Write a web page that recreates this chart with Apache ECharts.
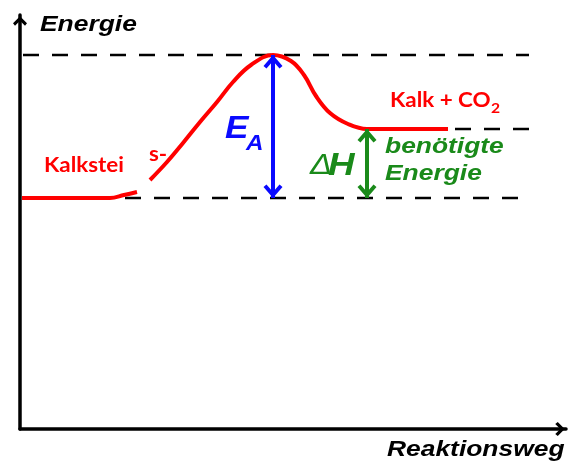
<!DOCTYPE html>
<html>
<head>
<meta charset="utf-8">
<script src="https://cdn.jsdelivr.net/npm/echarts@6/dist/echarts.min.js"></script>
<style>
  html, body { margin: 0; padding: 0; background: #fff; }
  #chart { width: 568px; height: 464px; }
</style>
</head>
<body>
<div id="chart"></div>
<script>
// energy levels (arbitrary units)
var reactantLevel = 231
var peakLevel = 374
var productLevel = 300
var peakX = 253
var productX = 347

// red reaction curve, the piece before the gap and the piece after it
var curveLowX = [2, 90, 104, 117]
var curveLowY = [231, 231, 234, 237]
var curveHighX = [130, 147, 163, 180, 197, 213, 231, 253, 271, 284, 296, 310, 328, 347, 428]
var curveHighY = [249, 267, 286, 307, 327, 347, 364, 374, 368, 354, 333, 316, 305, 300, 300]

// dashed helper lines: [xStart, xEnd] for each level
var topDashX = [3, 509]
var midDashX = [435, 509]
var lowDashX = [105, 503]

var RED = '#ff0000'
var BLUE = '#0a0aff'
var GREEN = '#1a8a1a'

function pairs(xs, ys) {
    return xs.map(function (x, i) { return [x, ys[i]] })
}

// chevron arrow heads, tip placed at the centre of the symbol box
var axisHead = 'path://M7,0L7.01,0L7,0.01Z M7,12L14,19L12,21.5L7,16.5L2,21.5L0,19Z'
var bigHead = 'path://M10,2.5L10.01,2.5L10,2.51Z M10,16L19.5,27L16.5,29.5L10,22L3.5,29.5L0.5,27Z'

function dashLine(xs, level) {
    return {
        type: 'line',
        data: [[xs[0], level], [xs[1], level]],
        symbol: 'none',
        silent: true,
        lineStyle: { color: '#000', width: 2.5, type: [16, 13] },
        z: 1
    }
}

function curve(xs, ys) {
    return {
        type: 'line',
        data: pairs(xs, ys),
        smooth: 0.4,
        symbol: 'none',
        silent: true,
        lineStyle: { color: RED, width: 4 },
        z: 2
    }
}

function doubleArrow(x, y1, y2, color) {
    return {
        type: 'line',
        data: [],
        silent: true,
        markLine: {
            silent: true,
            animation: false,
            symbol: [bigHead, bigHead],
            symbolSize: [19, 27],
            label: { show: false },
            lineStyle: { color: color, width: 4, type: 'solid' },
            emphasis: { disabled: true },
            data: [[{ coord: [x, y1] }, { coord: [x, y2] }]]
        },
        z: 3
    }
}

function label(text, x, y, font, color, sx) {
    return {
        type: 'text',
        x: x,
        y: y,
        scaleX: sx || 1.2,
        silent: true,
        z: 10,
        style: {
            text: text,
            x: 0,
            y: 0,
            font: font,
            fill: color,
            align: 'left',
            verticalAlign: 'middle'
        }
    }
}

var arialBI = 'italic bold 22px "Liberation Sans", Arial, sans-serif'
var lato = 'bold 20px Lato, "Noto Sans", sans-serif'

var option = {
    animation: false,
    backgroundColor: '#fff',
    grid: { left: 20, right: 2, top: 15, bottom: 35 },
    xAxis: {
        type: 'value',
        min: 0,
        max: 546,
        axisLine: {
            onZero: false,
            symbol: ['none', axisHead],
            symbolSize: [14, 21.5],
            lineStyle: { color: '#000', width: 3.5 }
        },
        axisTick: { show: false },
        axisLabel: { show: false },
        splitLine: { show: false }
    },
    yAxis: {
        type: 'value',
        min: 0,
        max: 414,
        axisLine: {
            show: true,
            onZero: false,
            symbol: ['none', axisHead],
            symbolSize: [14, 21.5],
            lineStyle: { color: '#000', width: 3.5 }
        },
        axisTick: { show: false },
        axisLabel: { show: false },
        splitLine: { show: false }
    },
    series: [
        dashLine(topDashX, peakLevel),
        dashLine(midDashX, productLevel),
        dashLine(lowDashX, reactantLevel),
        curve(curveLowX, curveLowY),
        curve(curveHighX, curveHighY),
        doubleArrow(peakX, reactantLevel, peakLevel, BLUE),
        doubleArrow(productX, reactantLevel, productLevel, GREEN)
    ],
    graphic: [
        label('Energie', 40, 25, arialBI, '#000'),
        label('Reaktionsweg', 387, 450, arialBI, '#000'),
        label('Kalk + CO', 390, 101, lato, RED, 1.12),
        label('2', 491, 108, 'bold 14px Lato, "Noto Sans", sans-serif', RED, 1.12),
        label('Kalkstei', 44, 166, lato, RED, 1.12),
        label('s-', 149, 155, lato, RED, 1.12),
        label('E', 225, 129, 'italic bold 32px "Liberation Sans", Arial, sans-serif', BLUE, 1.1),
        label('A', 246, 144, 'italic bold 22px "Liberation Sans", Arial, sans-serif', BLUE, 1.1),
        label('\u0394', 310, 166, 'italic 30px "Liberation Sans", Arial, sans-serif', GREEN, 1.1),
        label('H', 328, 166, 'italic bold 32px "Liberation Sans", Arial, sans-serif', GREEN, 1.15),
        label('ben\u00f6tigte', 385, 147, arialBI, GREEN),
        label('Energie', 385, 174, arialBI, GREEN)
    ]
}

var chartElement = document.getElementById('chart')
var myChart = echarts.init(chartElement)
myChart.setOption(option)
</script>
</body>
</html>
